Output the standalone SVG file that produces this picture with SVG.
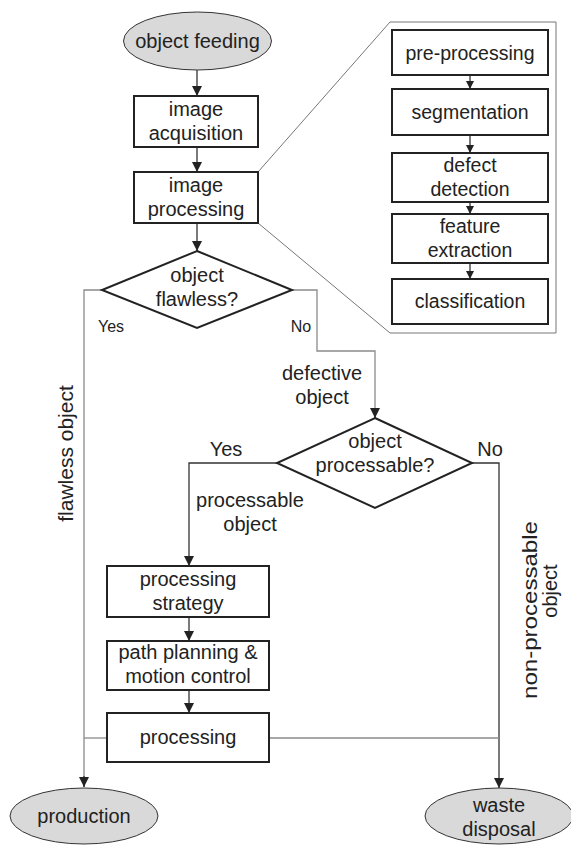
<svg xmlns="http://www.w3.org/2000/svg" width="571" height="846" viewBox="0 0 571 846">
<defs>
<style>
text{font-family:"Liberation Sans",Arial,sans-serif;fill:#222;text-anchor:middle}
.t20{font-size:20px}
.t19{font-size:19.5px}
.t16{font-size:16px}
.box{fill:#fff;stroke:#222;stroke-width:2}
.term{fill:#d9d9d9;stroke:#333;stroke-width:1}
.dia{fill:#fff;stroke:#222;stroke-width:2}
.ln{fill:none;stroke:#333;stroke-width:1.3}
.gl{fill:none;stroke:#8a8a8a;stroke-width:1.3}
.inset{fill:#fff;stroke:#777;stroke-width:1}
</style>
<marker id="ah" viewBox="0 0 10 10" refX="10" refY="5" markerWidth="10" markerHeight="10" markerUnits="userSpaceOnUse" orient="auto">
<path d="M0,0 L10,5 L0,10 z" fill="#222"/>
</marker>
<marker id="ahs" viewBox="0 0 10 10" refX="10" refY="5" markerWidth="8" markerHeight="8" markerUnits="userSpaceOnUse" orient="auto">
<path d="M0,0 L10,5 L0,10 z" fill="#222"/>
</marker>
</defs>
<rect width="571" height="846" fill="#fff"/>

<g id="inset-panel">
<polygon class="inset" points="258,172 390,22 556,22 556,333 390,333 258,223"/>
</g>

<g id="connectors">
<line class="ln" x1="197" y1="70" x2="197" y2="96" marker-end="url(#ah)"/>
<line class="ln" x1="197" y1="147" x2="197" y2="172" marker-end="url(#ah)"/>
<line class="ln" x1="197" y1="223" x2="197" y2="251" marker-end="url(#ah)"/>
<polyline class="gl" points="102,290 84,290 84,787"/>
<line class="ln" x1="84" y1="776" x2="84" y2="787" marker-end="url(#ah)"/>
<polyline class="gl" points="292,290 317,290 317,351 375,351 375,418"/>
<line class="ln" x1="375" y1="408" x2="375" y2="418" marker-end="url(#ah)"/>
<polyline class="ln" points="277,463 189,463 189,566" marker-end="url(#ah)"/>
<polyline class="ln" points="472,463 499,463 499,788" marker-end="url(#ah)"/>
<line class="ln" x1="189" y1="617" x2="189" y2="641" marker-end="url(#ah)"/>
<line class="ln" x1="189" y1="690" x2="189" y2="713" marker-end="url(#ah)"/>
<line class="gl" x1="107" y1="738" x2="84" y2="738"/>
<line class="gl" x1="269" y1="738" x2="499" y2="738"/>
<line class="ln" x1="470" y1="75" x2="470" y2="89" marker-end="url(#ahs)"/>
<line class="ln" x1="470" y1="135" x2="470" y2="153" marker-end="url(#ahs)"/>
<line class="ln" x1="470" y1="202" x2="470" y2="214" marker-end="url(#ahs)"/>
<line class="ln" x1="470" y1="263" x2="470" y2="279" marker-end="url(#ahs)"/>
</g>

<g id="object-feeding">
<ellipse class="term" cx="197.5" cy="41" rx="74" ry="29"/>
<text class="t20" x="197.5" y="48">object feeding</text>
</g>
<g id="image-acquisition">
<rect class="box" x="134" y="96" width="124" height="51"/>
<text class="t20" x="196" y="116">image</text>
<text class="t20" x="196" y="140">acquisition</text>
</g>
<g id="image-processing">
<rect class="box" x="134" y="172" width="124" height="51"/>
<text class="t20" x="196" y="192">image</text>
<text class="t20" x="196" y="216">processing</text>
</g>
<g id="object-flawless">
<polygon class="dia" points="197,251 292,290 197,328 102,290"/>
<text class="t20" x="197" y="282">object</text>
<text class="t20" x="197" y="306">flawless?</text>
</g>
<g id="object-processable">
<polygon class="dia" points="375,418 472,463 375,508 277,463"/>
<text class="t20" x="375" y="448">object</text>
<text class="t20" x="375" y="472">processable?</text>
</g>
<g id="processing-strategy">
<rect class="box" x="107" y="566" width="162" height="51"/>
<text class="t20" x="188" y="586">processing</text>
<text class="t20" x="188" y="610">strategy</text>
</g>
<g id="path-planning">
<rect class="box" x="107" y="641" width="162" height="49"/>
<text class="t20" x="188" y="659">path planning &amp;</text>
<text class="t20" x="188" y="683">motion control</text>
</g>
<g id="processing">
<rect class="box" x="107" y="713" width="162" height="49"/>
<text class="t20" x="188" y="744">processing</text>
</g>
<g id="production">
<ellipse class="term" cx="84" cy="816" rx="74" ry="28"/>
<text class="t20" x="84" y="823">production</text>
</g>
<g id="waste-disposal">
<ellipse class="term" cx="499" cy="816" rx="74" ry="28"/>
<text class="t20" x="499" y="812">waste</text>
<text class="t20" x="499" y="836">disposal</text>
</g>

<g id="pre-processing">
<rect class="box" x="392" y="30" width="156" height="45"/>
<text class="t19" x="470" y="60">pre-processing</text>
</g>
<g id="segmentation">
<rect class="box" x="392" y="89" width="156" height="46"/>
<text class="t19" x="470" y="119">segmentation</text>
</g>
<g id="defect-detection">
<rect class="box" x="392" y="153" width="156" height="49"/>
<text class="t19" x="470" y="172">defect</text>
<text class="t19" x="470" y="196">detection</text>
</g>
<g id="feature-extraction">
<rect class="box" x="392" y="214" width="156" height="49"/>
<text class="t19" x="470" y="233">feature</text>
<text class="t19" x="470" y="257">extraction</text>
</g>
<g id="classification">
<rect class="box" x="392" y="279" width="156" height="45"/>
<text class="t19" x="470" y="308">classification</text>
</g>

<g id="labels">
<text class="t16" x="111" y="332">Yes</text>
<text class="t16" x="301" y="332">No</text>
<text class="t20" x="322" y="380">defective</text>
<text class="t20" x="322" y="404">object</text>
<text class="t20" x="226" y="456">Yes</text>
<text class="t20" x="490" y="456">No</text>
<text class="t20" x="250" y="507">processable</text>
<text class="t20" x="250" y="531">object</text>
<text class="t20" transform="translate(73,453.5) rotate(-90)" style="font-size:21px">flawless object</text>
<text class="t20" transform="translate(537,610) rotate(-90)" textLength="178" lengthAdjust="spacingAndGlyphs">non-processable</text>
<text class="t20" transform="translate(557,591) rotate(-90)">object</text>
</g>
</svg>
